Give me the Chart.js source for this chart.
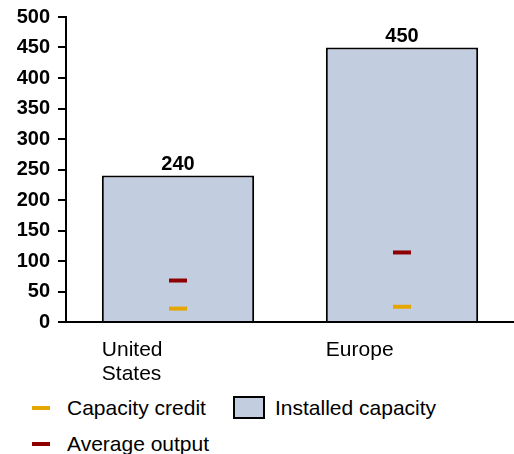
<!doctype html>
<html lang="en">
<head>
  <meta charset="utf-8">
  <title>Installed capacity vs output</title>
  <style>
    body {
      margin: 0;
      background: #ffffff;
      font-family: "Liberation Sans", Arial, sans-serif;
    }
    .wrap {
      position: relative;
      width: 514px;
      height: 454px;
      overflow: hidden;
    }
    .legendItem {
      position: absolute;
      font-size: 21px;
      line-height: 24px;
      color: #000;
      white-space: nowrap;
    }
    .legendMark {
      position: absolute;
    }
  </style>
</head>
<body>
  <div class="wrap">
    <canvas id="chart" width="514" height="390"></canvas>
    <div id="legend"></div>
  </div>
  <script src="https://cdn.jsdelivr.net/npm/chart.js@4.4.1/dist/chart.umd.min.js"></script>
  <script>
    // values
    const regions = [["United", "States"], ["Europe"]];
    const installedCapacity = [240, 450];
    const averageOutput = [68, 114];
    const capacityCredit = [22, 25];
    const yTicks = [0, 50, 100, 150, 200, 250, 300, 350, 400, 450, 500];

    const barColor = '#c3cde0';
    const outputColor = '#8e0000';
    const creditColor = '#e6a600';
    const fontName = '"Liberation Sans", Arial, sans-serif';

    // bar value labels and left-aligned category labels
    const textPlugin = {
      id: 'barText',
      afterDatasetsDraw(chart) {
        const ctx = chart.ctx;
        const meta = chart.getDatasetMeta(2);
        ctx.save();
        ctx.fillStyle = '#000';
        meta.data.forEach((bar, i) => {
          ctx.font = 'bold 20px ' + fontName;
          ctx.textAlign = 'center';
          ctx.textBaseline = 'alphabetic';
          ctx.fillText(String(installedCapacity[i]), bar.x, bar.y - 6);

          ctx.font = '21px ' + fontName;
          ctx.textAlign = 'left';
          regions[i].forEach((line, j) => {
            ctx.fillText(line, bar.x - bar.width / 2, chart.chartArea.bottom + 34 + j * 24);
          });
        });
        ctx.restore();
      }
    };

    const ctx = document.getElementById('chart').getContext('2d');
    const chart = new Chart(ctx, {
      data: {
        labels: regions.map(r => r.join(' ')),
        datasets: [
          {
            type: 'line',
            label: 'Capacity credit',
            data: capacityCredit,
            showLine: false,
            pointStyle: 'line',
            pointRadius: 9,
            pointBorderWidth: 4,
            pointBorderColor: creditColor,
            borderColor: creditColor,
            order: 1
          },
          {
            type: 'line',
            label: 'Average output',
            data: averageOutput,
            showLine: false,
            pointStyle: 'line',
            pointRadius: 9,
            pointBorderWidth: 4,
            pointBorderColor: outputColor,
            borderColor: outputColor,
            order: 1
          },
          {
            type: 'bar',
            label: 'Installed capacity',
            data: installedCapacity,
            backgroundColor: barColor,
            borderColor: '#000',
            borderWidth: 2,
            borderSkipped: 'bottom',
            categoryPercentage: 1,
            barPercentage: 0.68,
            order: 2
          }
        ]
      },
      options: {
        responsive: false,
        animation: false,
        events: [],
        layout: { autoPadding: false, padding: { top: 17, right: 0, bottom: 60, left: 0 } },
        plugins: {
          legend: { display: false },
          tooltip: { enabled: false }
        },
        scales: {
          x: {
            grid: { display: false },
            border: { color: '#000', width: 2 },
            ticks: { display: false }
          },
          y: {
            min: 0,
            max: 500,
            afterBuildTicks: (scale) => { scale.ticks = yTicks.map(v => ({ value: v })); },
            afterFit: (scale) => { scale.width = 66; scale.paddingTop = 0; },
            grid: { drawOnChartArea: false, tickLength: 8, color: '#000', lineWidth: 2 },
            border: { color: '#000', width: 2 },
            ticks: {
              color: '#000',
              padding: 8,
              font: { family: fontName, size: 20, weight: 'bold' }
            }
          }
        }
      },
      plugins: [textPlugin]
    });

    // legend laid out like the original: two items on the first row, one below
    const legendItems = [
      { label: 'Capacity credit', kind: 'line', color: creditColor, x: 32, y: 396 },
      { label: 'Installed capacity', kind: 'box', color: barColor, x: 233, y: 396 },
      { label: 'Average output', kind: 'line', color: outputColor, x: 32, y: 432 }
    ];
    const legend = document.getElementById('legend');
    legendItems.forEach(item => {
      const mark = document.createElement('div');
      mark.className = 'legendMark';
      if (item.kind === 'line') {
        mark.style.left = item.x + 'px';
        mark.style.top = (item.y + 10) + 'px';
        mark.style.width = '18px';
        mark.style.height = '4px';
        mark.style.background = item.color;
      } else {
        mark.style.left = item.x + 'px';
        mark.style.top = item.y + 'px';
        mark.style.width = '28px';
        mark.style.height = '19px';
        mark.style.background = item.color;
        mark.style.border = '2px solid #000';
      }
      legend.appendChild(mark);
      const text = document.createElement('div');
      text.className = 'legendItem';
      text.textContent = item.label;
      text.style.left = (item.kind === 'line' ? item.x + 35 : item.x + 42) + 'px';
      text.style.top = item.y + 'px';
      legend.appendChild(text);
    });
  </script>
</body>
</html>
